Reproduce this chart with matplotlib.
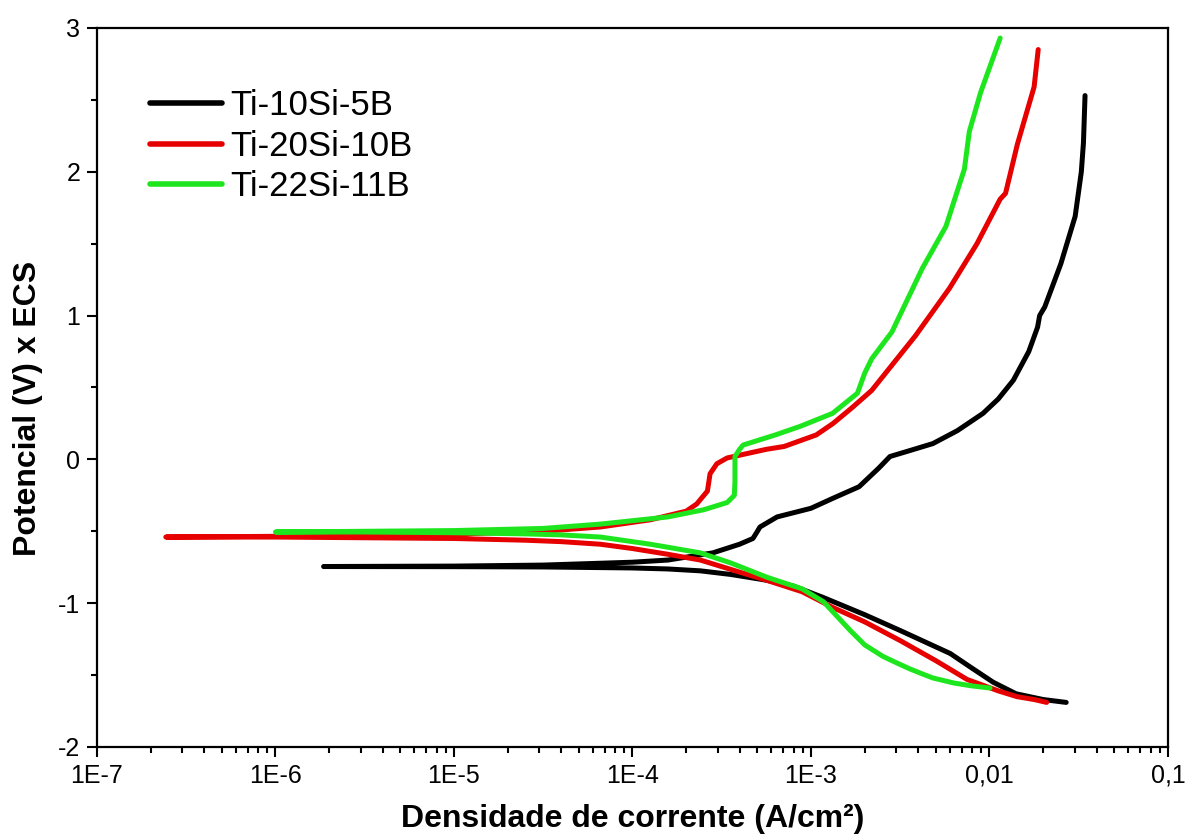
import matplotlib
matplotlib.use("Agg")
import matplotlib.pyplot as plt
import numpy as np
from matplotlib.ticker import FixedLocator, NullFormatter

plt.rcParams['font.family'] = ['Liberation Sans', 'DejaVu Sans']

labels = ["Ti-10Si-5B", "Ti-20Si-10B", "Ti-22Si-11B"]
colors = ["#000000", "#e60000", "#1ee61e"]

# Ti-10Si-5B : cathodic branch (from high current to Ecorr), then anodic branch
i1_cat = [0.0269, 0.0200, 0.0141, 0.0105, 0.00794, 0.00603, 0.00316, 0.00200, 0.00117,
          7.94e-4, 5.62e-4, 3.55e-4, 2.40e-4, 1.58e-4, 1.0e-4, 3.16e-5, 1.0e-5, 1.86e-6]
e1_cat = [-1.69, -1.67, -1.63, -1.55, -1.45, -1.35, -1.19, -1.08, -0.96,
          -0.88, -0.84, -0.80, -0.775, -0.762, -0.755, -0.748, -0.746, -0.745]
i1_an = [1.0e-5, 3.16e-5, 1.0e-4, 1.58e-4, 2.82e-4, 3.98e-4, 4.73e-4, 5.01e-4, 5.18e-4,
         6.46e-4, 1.0e-3, 1.33e-3, 1.86e-3, 2.40e-3, 2.77e-3, 3.55e-3, 4.82e-3, 6.61e-3,
         9.20e-3, 0.0112, 0.0136, 0.0166, 0.0186, 0.0191, 0.0204, 0.0251, 0.0302, 0.0327,
         0.0336, 0.0343]
e1_an = [-0.742, -0.735, -0.715, -0.70, -0.65, -0.59, -0.55, -0.50, -0.47,
         -0.40, -0.34, -0.27, -0.19, -0.06, 0.02, 0.06, 0.11, 0.20,
         0.32, 0.42, 0.55, 0.75, 0.92, 1.0, 1.06, 1.36, 1.69, 2.0,
         2.2, 2.53]

# Ti-20Si-10B
i2_cat = [0.0209, 0.0178, 0.01426, 0.01122, 0.00748, 0.00501, 0.00316, 0.00200, 0.001327,
          8.91e-4, 5.62e-4, 3.66e-4, 2.40e-4, 1.58e-4, 1.0e-4, 6.61e-5, 4.0e-5, 2.51e-5,
          1.0e-5, 3.16e-6, 1.0e-6, 2.43e-7]
e2_cat = [-1.69, -1.67, -1.65, -1.61, -1.53, -1.40, -1.26, -1.13, -1.03,
          -0.92, -0.84, -0.77, -0.70, -0.66, -0.62, -0.59, -0.572, -0.562,
          -0.55, -0.545, -0.54, -0.54]
i2_an = [1.0e-6, 3.16e-6, 1.0e-5, 3.16e-5, 6.61e-5, 1.26e-4, 2.0e-4, 2.29e-4, 2.63e-4,
         2.72e-4, 2.97e-4, 3.39e-4, 5.62e-4, 7.08e-4, 1.07e-3, 1.33e-3, 1.70e-3, 2.19e-3,
         3.85e-3, 5.97e-3, 8.51e-3, 0.01148, 0.0123, 0.01432, 0.01778, 0.01875]
e2_an = [-0.535, -0.53, -0.52, -0.50, -0.47, -0.42, -0.36, -0.31, -0.22,
         -0.10, -0.03, 0.01, 0.07, 0.09, 0.17, 0.25, 0.36, 0.48,
         0.86, 1.19, 1.50, 1.81, 1.85, 2.19, 2.59, 2.85]

# Ti-22Si-11B
i3_cat = [0.01007, 0.00794, 0.00631, 0.00482, 0.00417, 0.00355, 0.00302, 0.00253, 0.00200,
          0.00166, 0.001175, 8.91e-4, 5.68e-4, 3.55e-4, 2.40e-4, 1.26e-4, 6.61e-5, 3.98e-5,
          2.51e-5, 1.0e-5, 3.16e-6, 1.0e-6]
e3_cat = [-1.59, -1.575, -1.555, -1.52, -1.49, -1.455, -1.415, -1.37, -1.29,
          -1.19, -0.99, -0.90, -0.82, -0.72, -0.65, -0.59, -0.54, -0.525,
          -0.518, -0.51, -0.505, -0.505]
i3_an = [3.16e-6, 1.0e-5, 3.16e-5, 6.61e-5, 1.58e-4, 2.51e-4, 3.39e-4, 3.72e-4, 3.75e-4,
         3.75e-4, 3.98e-4, 4.17e-4, 6.31e-4, 8.71e-4, 1.32e-3, 1.82e-3, 2.0e-3, 2.19e-3,
         2.84e-3, 4.21e-3, 5.70e-3, 7.24e-3, 7.71e-3, 8.91e-3, 0.01148]
e3_an = [-0.50, -0.495, -0.48, -0.45, -0.40, -0.35, -0.30, -0.25, -0.15,
         0.02, 0.07, 0.10, 0.17, 0.23, 0.32, 0.46, 0.60, 0.70,
         0.886, 1.33, 1.62, 2.02, 2.28, 2.55, 2.93]

xtick_vals = [1e-7, 1e-6, 1e-5, 1e-4, 1e-3, 1e-2, 1e-1]
xtick_labels = ["1E-7", "1E-6", "1E-5", "1E-4", "1E-3", "0,01", "0,1"]
ytick_vals = [-2, -1, 0, 1, 2, 3]
ytick_labels = ["-2", "-1", "0", "1", "2", "3"]

fig = plt.figure(figsize=(11.9, 8.38), dpi=100)
ax = fig.add_axes([0.0815, 0.1086, 0.9000, 0.8580])

series = [(i1_cat, e1_cat, i1_an, e1_an),
          (i2_cat, e2_cat, i2_an, e2_an),
          (i3_cat, e3_cat, i3_an, e3_an)]
for (ic, ec, ia, ea), lab, col in zip(series, labels, colors):
    x = np.concatenate([ic, ia])
    y = np.concatenate([ec, ea])
    ax.plot(x, y, color=col, lw=3.6, label=lab, solid_capstyle='round',
            solid_joinstyle='round')

ax.set_xscale('log')
ax.set_xlim(1e-7, 1e-1)
ax.set_ylim(-2, 3)
ax.set_xticks(xtick_vals)
ax.set_xticklabels(xtick_labels)
minors = [m * 10.0 ** d for d in range(-7, -1) for m in range(2, 10)]
ax.xaxis.set_minor_locator(FixedLocator(minors))
ax.xaxis.set_minor_formatter(NullFormatter())
ax.set_yticks(ytick_vals)
ax.set_yticklabels(ytick_labels)
ax.yaxis.set_minor_locator(FixedLocator([-1.5, -0.5, 0.5, 1.5, 2.5]))

ax.tick_params(which='major', direction='out', length=7, width=1.5, labelsize=18, pad=5,
               top=False, right=False)
ax.tick_params(which='minor', direction='out', length=4, width=1.5, top=False, right=False)
for s in ax.spines.values():
    s.set_linewidth(1.6)

ax.set_xlabel("Densidade de corrente (A/cm²)", fontsize=23, fontweight='bold', labelpad=12)
ax.set_ylabel("Potencial (V) x ECS", fontsize=23, fontweight='bold')
ax.yaxis.set_label_coords(-0.0504, 0.4715)

leg = ax.legend(loc='upper left', bbox_to_anchor=(0.0495, 0.915), frameon=False,
                fontsize=25, handlelength=2.07, handletextpad=0.23, labelspacing=0.22,
                borderpad=0, borderaxespad=0)
for h in leg.get_lines():
    h.set_linewidth(4)

fig.savefig("out.png", dpi=100)
